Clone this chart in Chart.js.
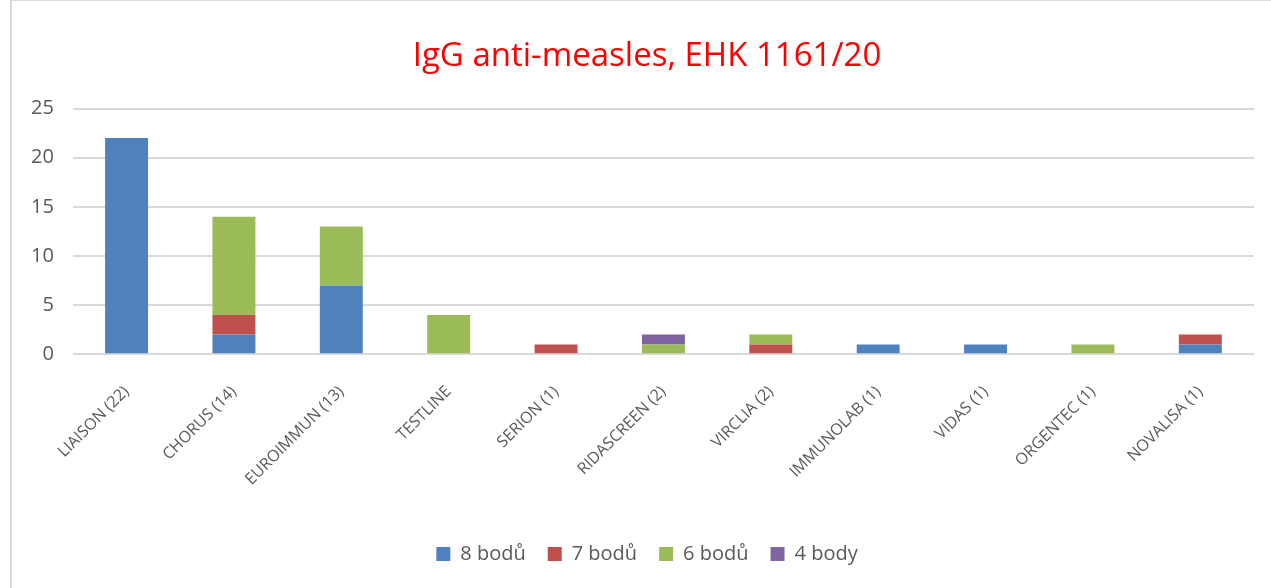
<!DOCTYPE html>
<html>
<head>
<meta charset="utf-8">
<script src="https://cdn.jsdelivr.net/npm/chart.js@4"></script>
<style>
  html, body { margin: 0; padding: 0; background: #fff; }
  #wrap { position: absolute; left: 10px; top: 0; width: 1261px; height: 588px;
          border-left: 2px solid #d9d9d9; border-top: 1px solid #d9d9d9; box-sizing: border-box; }
</style>
</head>
<body>
<div id="wrap"><canvas id="myChart"></canvas></div>
<script>
const labels = ['LIAISON (22)', 'CHORUS (14)', 'EUROIMMUN (13)', 'TESTLINE', 'SERION (1)',
  'RIDASCREEN (2)', 'VIRCLIA (2)', 'IMMUNOLAB (1)', 'VIDAS (1)', 'ORGENTEC (1)', 'NOVALISA (1)'];
const body8 = [22, 2, 7, 0, 0, 0, 0, 1, 1, 0, 1];
const body7 = [0, 2, 0, 0, 1, 0, 1, 0, 0, 0, 1];
const body6 = [0, 10, 6, 4, 0, 1, 1, 0, 0, 1, 0];
const body4 = [0, 0, 0, 0, 0, 1, 0, 0, 0, 0, 0];
const yTicks = [0, 5, 10, 15, 20, 25];

const ctx = document.getElementById('myChart');
const font = "'Open Sans', 'Liberation Sans', sans-serif";

const ds = (label, data, color) => ({
  label: label, data: data, backgroundColor: color,
  categoryPercentage: 1, barPercentage: 0.4
});

// title + legend sit a bit right of centre, like the original
const shiftBoxes = {
  id: 'shiftBoxes',
  afterLayout(chart) {
    [chart.titleBlock, chart.legend].forEach(b => {
      if (b) { b.left += 14; b.right += 14; }
    });
  }
};

new Chart(ctx, {
  type: 'bar',
  data: {
    labels: labels,
    datasets: [
      ds('8 bodů', body8, '#4F81BD'),
      ds('7 bodů', body7, '#C0504D'),
      ds('6 bodů', body6, '#9BBB59'),
      ds('4 body', body4, '#8064A2')
    ]
  },
  options: {
    responsive: true,
    maintainAspectRatio: false,
    animation: false,
    layout: { padding: { left: 0, right: 17, top: 10, bottom: 14 } },
    scales: {
      x: {
        stacked: true,
        grid: { display: false },
        border: { display: false },
        ticks: { color: '#595959', font: { family: font, size: 16 }, minRotation: 45, maxRotation: 45, padding: 20 },
        afterFit: axis => { axis.height += 13; }
      },
      y: {
        stacked: true,
        min: 0, max: 25,
        afterBuildTicks: axis => { axis.ticks = yTicks.map(v => ({ value: v })); },
        grid: { color: '#d9d9d9', lineWidth: 2, drawTicks: false },
        border: { display: false },
        ticks: { color: '#595959', font: { family: font, size: 20 }, padding: 19 }
      }
    },
    plugins: {
      title: {
        display: true,
        text: 'IgG anti-measles, EHK 1161/20',
        color: '#FF0000',
        font: { family: font, size: 33, weight: 'normal' },
        padding: { top: 26, bottom: 32 }
      },
      legend: {
        position: 'bottom',
        labels: { color: '#595959', font: { family: font, size: 20 }, boxWidth: 14, boxHeight: 14, padding: 22 }
      },
      tooltip: { enabled: false }
    }
  },
  plugins: [shiftBoxes]
});
</script>
</body>
</html>
